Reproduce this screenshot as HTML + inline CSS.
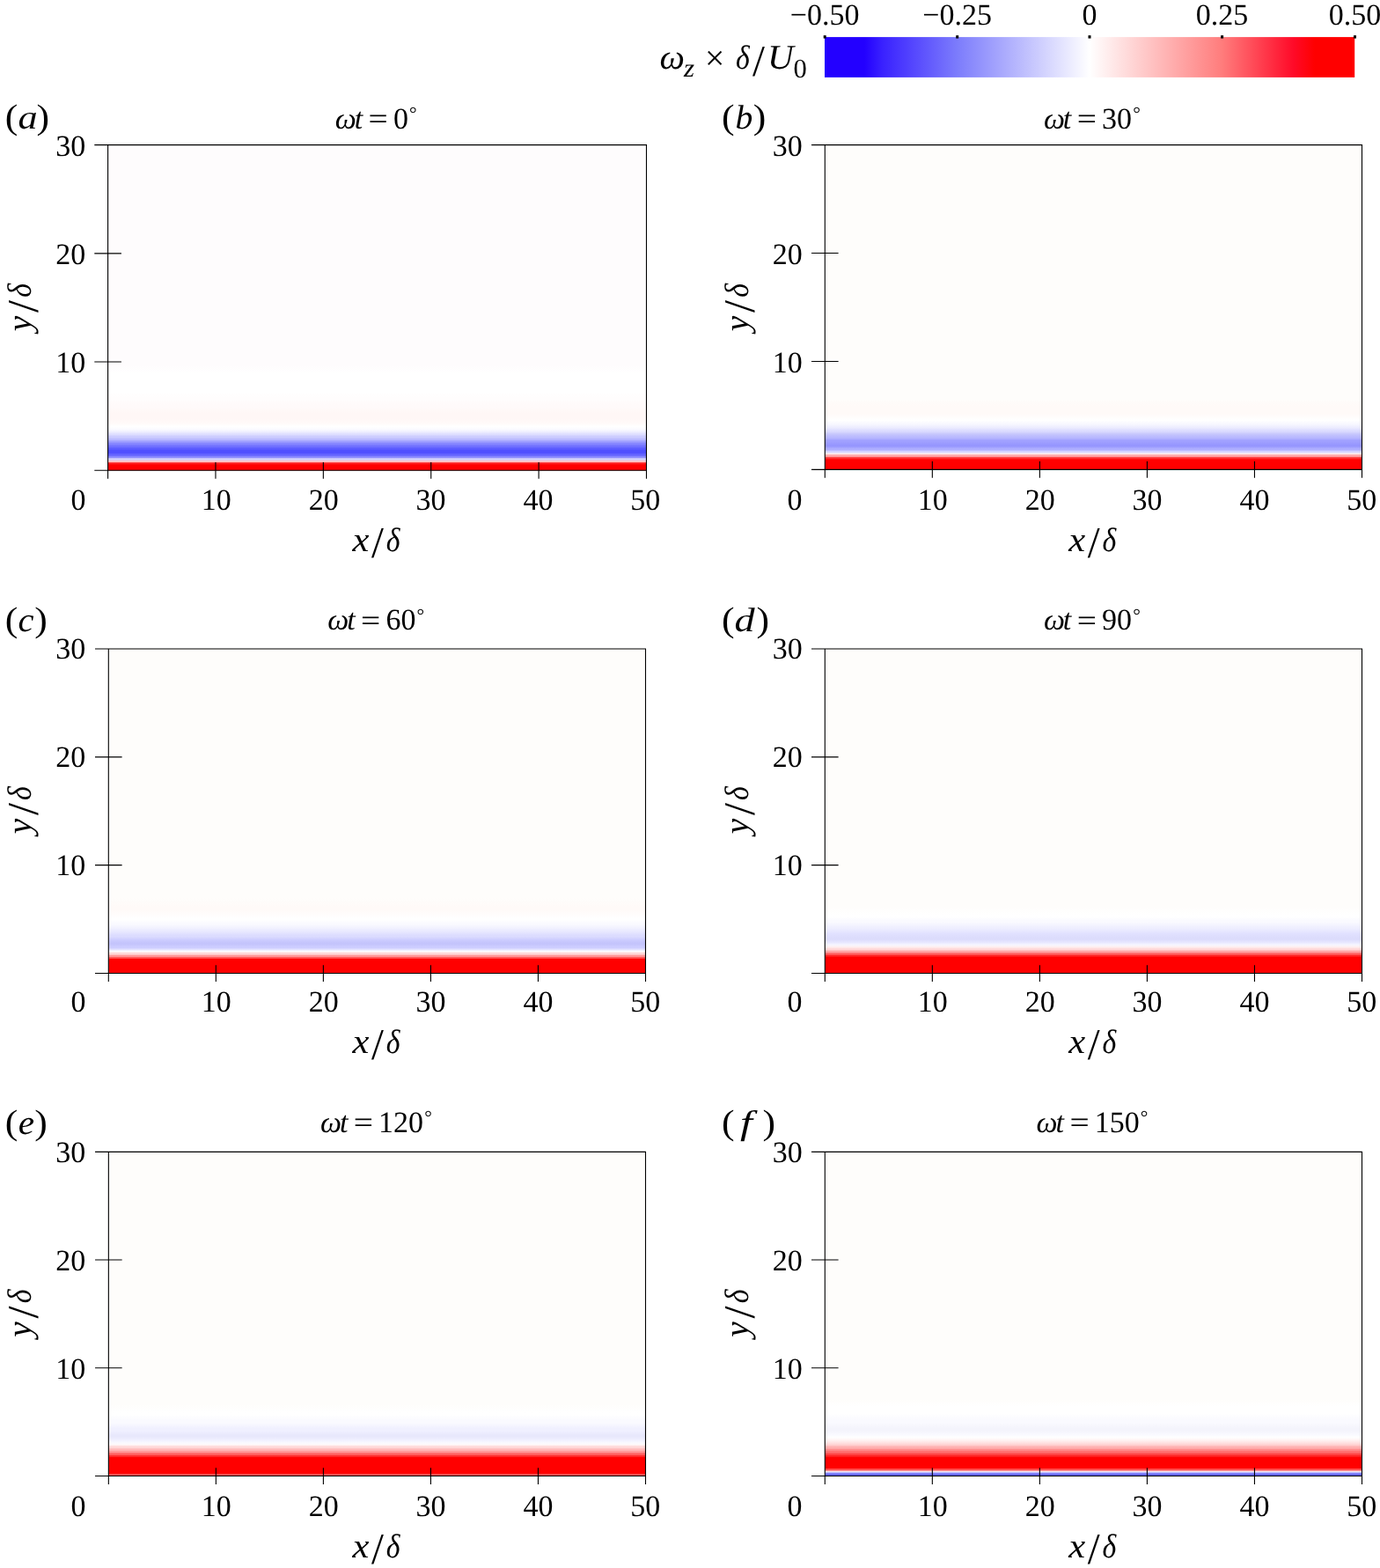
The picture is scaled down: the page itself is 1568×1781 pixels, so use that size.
<!DOCTYPE html>
<html lang="en"><head><meta charset="utf-8"><title>Vorticity contours at six phases</title>
<style>
html,body{margin:0;padding:0;background:#fff;}
body{width:1568px;height:1781px;overflow:hidden;}
svg{display:block;}
text{font-family:"Liberation Serif", "DejaVu Serif", serif;fill:#000;text-rendering:geometricPrecision;}
.tk{font-size:34px;}
.lb{font-size:39.5px;}
.i{font-style:italic;}
.ax{stroke:#000;stroke-width:1.1;fill:none;}
</style></head><body>
<svg width="1568" height="1781" viewBox="0 0 1568 1781" role="img" aria-label="Vorticity contours">
<defs>
<linearGradient id="cb" x1="0" y1="0" x2="1" y2="0"><stop offset="0" stop-color="#2300ff"/><stop offset="0.075" stop-color="#2300ff"/><stop offset="0.11" stop-color="#3a22ff"/><stop offset="0.25" stop-color="#7c7cfc"/><stop offset="0.5" stop-color="#ffffff"/><stop offset="0.75" stop-color="#ff7c7c"/><stop offset="0.885" stop-color="#ff0a28"/><stop offset="0.925" stop-color="#ff0000"/><stop offset="1" stop-color="#ff0000"/></linearGradient>
<linearGradient id="ga" gradientUnits="userSpaceOnUse" x1="0" y1="536.3" x2="0" y2="164.6"><stop offset="0.0055" stop-color="#ff0000"/><stop offset="0.0225" stop-color="#ff0000"/><stop offset="0.0252" stop-color="#ff1e1e"/><stop offset="0.0281" stop-color="#ff1e1e"/><stop offset="0.0317" stop-color="#ffc3c3"/><stop offset="0.0340" stop-color="#ffc3c3"/><stop offset="0.0376" stop-color="#d4d2fa"/><stop offset="0.0413" stop-color="#d4d2fa"/><stop offset="0.0451" stop-color="#8a8aff"/><stop offset="0.0475" stop-color="#8a8aff"/><stop offset="0.0513" stop-color="#6464ff"/><stop offset="0.0550" stop-color="#6464ff"/><stop offset="0.0588" stop-color="#5050ff"/><stop offset="0.0666" stop-color="#5050ff"/><stop offset="0.0704" stop-color="#5c5cff"/><stop offset="0.0736" stop-color="#5c5cff"/><stop offset="0.0774" stop-color="#7070ff"/><stop offset="0.0803" stop-color="#7070ff"/><stop offset="0.0841" stop-color="#8484ff"/><stop offset="0.0873" stop-color="#8484ff"/><stop offset="0.0928" stop-color="#a0a0ff"/><stop offset="0.0945" stop-color="#a0a0ff"/><stop offset="0.0999" stop-color="#bebeff"/><stop offset="0.1024" stop-color="#bebeff"/><stop offset="0.1062" stop-color="#cdcdff"/><stop offset="0.1105" stop-color="#cdcdff"/><stop offset="0.1140" stop-color="#dedeff"/><stop offset="0.1163" stop-color="#dedeff"/><stop offset="0.1228" stop-color="#eeeeff"/><stop offset="0.1304" stop-color="#fafaff"/><stop offset="0.1393" stop-color="#ffffff"/><stop offset="0.1496" stop-color="#fffaf9"/><stop offset="0.1645" stop-color="#fff7f6"/><stop offset="0.1796" stop-color="#fff7f6"/><stop offset="0.1986" stop-color="#fffafa"/><stop offset="0.2050" stop-color="#fffafa"/><stop offset="0.2215" stop-color="#fffdfd"/><stop offset="0.2279" stop-color="#fffdfd"/><stop offset="0.2469" stop-color="#ffffff"/><stop offset="0.3020" stop-color="#ffffff"/><stop offset="0.3262" stop-color="#fefcfd"/><stop offset="0.9892" stop-color="#fefcfd"/><stop offset="1.0000" stop-color="#fefcfd"/></linearGradient>
<linearGradient id="gb" gradientUnits="userSpaceOnUse" x1="0" y1="535.4" x2="0" y2="164.6"><stop offset="0.0064" stop-color="#ff0000"/><stop offset="0.0361" stop-color="#ff0000"/><stop offset="0.0388" stop-color="#ff2d2d"/><stop offset="0.0419" stop-color="#ff2d2d"/><stop offset="0.0457" stop-color="#ffa5a5"/><stop offset="0.0495" stop-color="#ffa5a5"/><stop offset="0.0544" stop-color="#fff5f5"/><stop offset="0.0592" stop-color="#d4d4ff"/><stop offset="0.0616" stop-color="#d4d4ff"/><stop offset="0.0653" stop-color="#afafff"/><stop offset="0.0691" stop-color="#afafff"/><stop offset="0.0771" stop-color="#9696fe"/><stop offset="0.0801" stop-color="#9696fe"/><stop offset="0.0916" stop-color="#a0a0ff"/><stop offset="0.0943" stop-color="#a0a0ff"/><stop offset="0.1034" stop-color="#b9b9ff"/><stop offset="0.1053" stop-color="#b9b9ff"/><stop offset="0.1149" stop-color="#c8c8fc"/><stop offset="0.1228" stop-color="#dcdcff"/><stop offset="0.1252" stop-color="#dcdcff"/><stop offset="0.1331" stop-color="#ebebff"/><stop offset="0.1452" stop-color="#f8f8ff"/><stop offset="0.1566" stop-color="#ffffff"/><stop offset="0.1772" stop-color="#fffaf8"/><stop offset="0.2011" stop-color="#fffaf8"/><stop offset="0.2226" stop-color="#fefdfb"/><stop offset="0.2465" stop-color="#fefdfb"/><stop offset="0.4083" stop-color="#fefdfb"/><stop offset="1.0000" stop-color="#fefdfb"/></linearGradient>
<linearGradient id="gc" gradientUnits="userSpaceOnUse" x1="0" y1="1107.5" x2="0" y2="737"><stop offset="0.0066" stop-color="#ff0000"/><stop offset="0.0487" stop-color="#ff0000"/><stop offset="0.0511" stop-color="#ff4646"/><stop offset="0.0532" stop-color="#ff4646"/><stop offset="0.0567" stop-color="#ff9696"/><stop offset="0.0597" stop-color="#ff9696"/><stop offset="0.0635" stop-color="#ffd7d7"/><stop offset="0.0673" stop-color="#ffd7d7"/><stop offset="0.0722" stop-color="#ffffff"/><stop offset="0.0786" stop-color="#e1e1ff"/><stop offset="0.0839" stop-color="#cdcdff"/><stop offset="0.0870" stop-color="#cdcdff"/><stop offset="0.0949" stop-color="#c4c4fc"/><stop offset="0.0980" stop-color="#c4c4fc"/><stop offset="0.1086" stop-color="#cdcdff"/><stop offset="0.1180" stop-color="#dcdcff"/><stop offset="0.1219" stop-color="#dcdcff"/><stop offset="0.1328" stop-color="#e8e8ff"/><stop offset="0.1450" stop-color="#f2f2ff"/><stop offset="0.1559" stop-color="#fafaff"/><stop offset="0.1597" stop-color="#fafaff"/><stop offset="0.1696" stop-color="#ffffff"/><stop offset="0.1734" stop-color="#ffffff"/><stop offset="0.2002" stop-color="#fffaf8"/><stop offset="0.2079" stop-color="#fffaf8"/><stop offset="0.2361" stop-color="#fefdfb"/><stop offset="0.2524" stop-color="#fefdfb"/><stop offset="0.4143" stop-color="#fefdfb"/><stop offset="1.0000" stop-color="#fefdfb"/></linearGradient>
<linearGradient id="gd" gradientUnits="userSpaceOnUse" x1="0" y1="1107.5" x2="0" y2="737"><stop offset="0.0066" stop-color="#ff0000"/><stop offset="0.0547" stop-color="#ff0000"/><stop offset="0.0574" stop-color="#ff2323"/><stop offset="0.0598" stop-color="#ff2323"/><stop offset="0.0635" stop-color="#ff6464"/><stop offset="0.0665" stop-color="#ff6464"/><stop offset="0.0703" stop-color="#ffa5a5"/><stop offset="0.0734" stop-color="#ffa5a5"/><stop offset="0.0771" stop-color="#ffd7d7"/><stop offset="0.0802" stop-color="#ffd7d7"/><stop offset="0.0855" stop-color="#ffeeee"/><stop offset="0.0927" stop-color="#f6f6ff"/><stop offset="0.0995" stop-color="#e8e8ff"/><stop offset="0.1091" stop-color="#dcdcfc"/><stop offset="0.1142" stop-color="#dcdcfc"/><stop offset="0.1268" stop-color="#e1e1ff"/><stop offset="0.1389" stop-color="#ebebff"/><stop offset="0.1510" stop-color="#f2f2ff"/><stop offset="0.1625" stop-color="#fafaff"/><stop offset="0.1668" stop-color="#fafaff"/><stop offset="0.1788" stop-color="#ffffff"/><stop offset="0.1839" stop-color="#ffffff"/><stop offset="0.2088" stop-color="#fefdfb"/><stop offset="0.2524" stop-color="#fefdfb"/><stop offset="0.4143" stop-color="#fefdfb"/><stop offset="1.0000" stop-color="#fefdfb"/></linearGradient>
<linearGradient id="ge" gradientUnits="userSpaceOnUse" x1="0" y1="1678.5" x2="0" y2="1308.35"><stop offset="0.0071" stop-color="#ff5050"/><stop offset="0.0109" stop-color="#ff5050"/><stop offset="0.0136" stop-color="#ff0000"/><stop offset="0.0620" stop-color="#ff0000"/><stop offset="0.0647" stop-color="#ff2828"/><stop offset="0.0671" stop-color="#ff2828"/><stop offset="0.0708" stop-color="#ff6464"/><stop offset="0.0746" stop-color="#ff6464"/><stop offset="0.0783" stop-color="#ff9696"/><stop offset="0.0807" stop-color="#ff9696"/><stop offset="0.0845" stop-color="#ffb9b9"/><stop offset="0.0883" stop-color="#ffb9b9"/><stop offset="0.0920" stop-color="#ffd7d7"/><stop offset="0.0958" stop-color="#ffd7d7"/><stop offset="0.1015" stop-color="#fffafa"/><stop offset="0.1084" stop-color="#f8f8ff"/><stop offset="0.1159" stop-color="#f0f0ff"/><stop offset="0.1259" stop-color="#e8e8fc"/><stop offset="0.1302" stop-color="#e8e8fc"/><stop offset="0.1444" stop-color="#f0f0ff"/><stop offset="0.1512" stop-color="#f0f0ff"/><stop offset="0.1687" stop-color="#fafaff"/><stop offset="0.1755" stop-color="#fafaff"/><stop offset="0.1929" stop-color="#ffffff"/><stop offset="0.1997" stop-color="#ffffff"/><stop offset="0.2269" stop-color="#fefdfb"/><stop offset="0.2553" stop-color="#fefdfb"/><stop offset="0.4174" stop-color="#fefdfb"/><stop offset="1.0000" stop-color="#fefdfb"/></linearGradient>
<linearGradient id="gf" gradientUnits="userSpaceOnUse" x1="0" y1="1678.5" x2="0" y2="1308.35"><stop offset="0.0074" stop-color="#6969ff"/><stop offset="0.0124" stop-color="#6969ff"/><stop offset="0.0152" stop-color="#bebeff"/><stop offset="0.0164" stop-color="#bebeff"/><stop offset="0.0196" stop-color="#ffebeb"/><stop offset="0.0238" stop-color="#ff5050"/><stop offset="0.0268" stop-color="#ff5050"/><stop offset="0.0295" stop-color="#ff0000"/><stop offset="0.0620" stop-color="#ff0000"/><stop offset="0.0647" stop-color="#ff1e1e"/><stop offset="0.0671" stop-color="#ff1e1e"/><stop offset="0.0707" stop-color="#ff4646"/><stop offset="0.0732" stop-color="#ff4646"/><stop offset="0.0769" stop-color="#ff6e6e"/><stop offset="0.0807" stop-color="#ff6e6e"/><stop offset="0.0844" stop-color="#ff8c8c"/><stop offset="0.0868" stop-color="#ff8c8c"/><stop offset="0.0905" stop-color="#ffafaf"/><stop offset="0.0943" stop-color="#ffafaf"/><stop offset="0.1008" stop-color="#ffd2d2"/><stop offset="0.1091" stop-color="#ffe6e6"/><stop offset="0.1167" stop-color="#fff5f5"/><stop offset="0.1235" stop-color="#ffffff"/><stop offset="0.1311" stop-color="#fafaff"/><stop offset="0.1444" stop-color="#f4f4fc"/><stop offset="0.1512" stop-color="#f4f4fc"/><stop offset="0.1698" stop-color="#fafaff"/><stop offset="0.1774" stop-color="#fafaff"/><stop offset="0.1980" stop-color="#ffffff"/><stop offset="0.2174" stop-color="#ffffff"/><stop offset="0.2420" stop-color="#fefdfb"/><stop offset="0.2553" stop-color="#fefdfb"/><stop offset="0.4174" stop-color="#fefdfb"/><stop offset="1.0000" stop-color="#fefdfb"/></linearGradient>
</defs>
<rect x="0" y="0" width="1568" height="1781" fill="#fff"/>
<g id="colorbar">
<rect x="937" y="42.1" width="602.2" height="45.8" fill="url(#cb)"/>
<rect x="935.7" y="40.2" width="3" height="3.4" fill="#000"/>
<rect x="1086.2" y="40.2" width="3" height="3.4" fill="#000"/>
<rect x="1236.5" y="40.2" width="3" height="3.4" fill="#000"/>
<rect x="1387.1" y="40.2" width="3" height="3.4" fill="#000"/>
<rect x="1538" y="40.2" width="3" height="3.4" fill="#000"/>
<text class="tk" x="937.2" y="27.7" text-anchor="middle">−0.50</text>
<text class="tk" x="1087.7" y="27.7" text-anchor="middle">−0.25</text>
<text class="tk" x="1238" y="27.7" text-anchor="middle">0</text>
<text class="tk" x="1388.6" y="27.7" text-anchor="middle">0.25</text>
<text class="tk" x="1539.5" y="27.7" text-anchor="middle">0.50</text>
<text class="lb" y="78.4"><tspan x="749.47" class="i" textLength="28.44" lengthAdjust="spacingAndGlyphs">ω</tspan><tspan x="777.14" y="86.8" class="i" font-size="29.5" textLength="12.05" lengthAdjust="spacingAndGlyphs">z</tspan> <tspan x="800.88" y="78.7">×</tspan> <tspan x="836.12" y="78.4" class="i" font-size="38.4" textLength="15.71" lengthAdjust="spacingAndGlyphs">δ</tspan><tspan x="855" y="86.4" font-size="50">/</tspan><tspan x="871.92" y="78.4" class="i" textLength="29.66" lengthAdjust="spacingAndGlyphs">U</tspan><tspan x="901.44" y="88.2" font-size="30.6">0</tspan></text>
</g>
<g id="panel-a">
<rect x="122.6" y="164.6" width="611.9" height="369.7" fill="url(#ga)"/>
<path class="ax" d="M107.3 164.6H734.5V543.7H734.5V534.3M734.5 534.3H107.3V534.3V534.3M122.6 164.6V543.7M107.3 411.07H137.9M107.3 287.83H137.9M244.98 525V543.7M367.36 525V543.7M489.74 525V543.7M612.12 525V543.7"/>
<text class="tk" x="97.2" y="177" text-anchor="end">30</text>
<text class="tk" x="97.2" y="300" text-anchor="end">20</text>
<text class="tk" x="97.2" y="423" text-anchor="end">10</text>
<text class="tk" x="97.5" y="578.8" text-anchor="end">0</text>
<text class="tk" x="245.82" y="578.8" text-anchor="middle">10</text>
<text class="tk" x="367.69" y="578.8" text-anchor="middle">20</text>
<text class="tk" x="489.56" y="578.8" text-anchor="middle">30</text>
<text class="tk" x="611.43" y="578.8" text-anchor="middle">40</text>
<text class="tk" x="733.3" y="578.8" text-anchor="middle">50</text>
<text class="lb" y="626.2"><tspan x="400.41" class="i" textLength="18.94" lengthAdjust="spacingAndGlyphs">x</tspan><tspan x="422" y="633.4" font-size="50">/</tspan><tspan x="438.82" y="626.2" class="i" font-size="38.4" textLength="15.71" lengthAdjust="spacingAndGlyphs">δ</tspan></text>
<g transform="translate(35.2 379.4) rotate(-90)"><text class="lb" y="0"><tspan x="3.28" class="i">y</tspan><tspan x="24.5" y="7.3" font-size="50">/</tspan><tspan x="41.62" y="0" class="i" font-size="38.4" textLength="15.71" lengthAdjust="spacingAndGlyphs">δ</tspan></text></g>
<text class="tk" y="145.5"><tspan x="380.78" class="i">ω</tspan><tspan x="402.7" class="i">t</tspan> <tspan x="418.63" y="146.1" textLength="22.24" lengthAdjust="spacingAndGlyphs">=</tspan> <tspan x="446.9" y="145.5">0</tspan><tspan x="465.07" y="136.2" font-size="21.5">°</tspan></text>
<text class="lb" y="145.7"><tspan x="5.77" font-size="39.8" textLength="14.58" lengthAdjust="spacingAndGlyphs">(</tspan><tspan x="20.47" class="i" font-size="38.5" textLength="22.11" lengthAdjust="spacingAndGlyphs">a</tspan><tspan x="41.5" font-size="39.8" textLength="14.58" lengthAdjust="spacingAndGlyphs">)</tspan></text>
</g>
<g id="panel-b">
<rect x="937.3" y="164.6" width="610.2" height="368.8" fill="url(#gb)"/>
<path class="ax" d="M922 164.6H1547.5V542.8H1547.5V533.4M1547.5 533.4H922V533.4V533.4M937.3 164.6V542.8M922 410.47H952.6M922 287.53H952.6M1059.34 524.1V542.8M1181.38 524.1V542.8M1303.42 524.1V542.8M1425.46 524.1V542.8"/>
<text class="tk" x="911.7" y="177" text-anchor="end">30</text>
<text class="tk" x="911.7" y="300" text-anchor="end">20</text>
<text class="tk" x="911.7" y="423" text-anchor="end">10</text>
<text class="tk" x="911.5" y="578.8" text-anchor="end">0</text>
<text class="tk" x="1059.82" y="578.8" text-anchor="middle">10</text>
<text class="tk" x="1181.69" y="578.8" text-anchor="middle">20</text>
<text class="tk" x="1303.56" y="578.8" text-anchor="middle">30</text>
<text class="tk" x="1425.43" y="578.8" text-anchor="middle">40</text>
<text class="tk" x="1547.3" y="578.8" text-anchor="middle">50</text>
<text class="lb" y="626.2"><tspan x="1214.21" class="i" textLength="18.94" lengthAdjust="spacingAndGlyphs">x</tspan><tspan x="1235.8" y="633.4" font-size="50">/</tspan><tspan x="1252.62" y="626.2" class="i" font-size="38.4" textLength="15.71" lengthAdjust="spacingAndGlyphs">δ</tspan></text>
<g transform="translate(849.6 379.4) rotate(-90)"><text class="lb" y="0"><tspan x="3.28" class="i">y</tspan><tspan x="24.5" y="7.3" font-size="50">/</tspan><tspan x="41.62" y="0" class="i" font-size="38.4" textLength="15.71" lengthAdjust="spacingAndGlyphs">δ</tspan></text></g>
<text class="tk" y="145.5"><tspan x="1185.88" class="i">ω</tspan><tspan x="1207.8" class="i">t</tspan> <tspan x="1223.73" y="146.1" textLength="22.24" lengthAdjust="spacingAndGlyphs">=</tspan> <tspan x="1252" y="145.5">30</tspan><tspan x="1287.17" y="136.2" font-size="21.5">°</tspan></text>
<text class="lb" y="145.7"><tspan x="819.97" font-size="39.8" textLength="14.58" lengthAdjust="spacingAndGlyphs">(</tspan><tspan x="835.53" class="i" font-size="38.5" textLength="19.86" lengthAdjust="spacingAndGlyphs">b</tspan><tspan x="855.7" font-size="39.8" textLength="14.58" lengthAdjust="spacingAndGlyphs">)</tspan></text>
</g>
<g id="panel-c">
<rect x="123.3" y="737" width="610.2" height="368.5" fill="url(#gc)"/>
<path class="ax" d="M108 737H733.5V1114.9H733.5V1105.5M733.5 1105.5H108V1105.5V1105.5M123.3 737V1114.9M108 982.67H138.6M108 859.83H138.6M245.34 1096.2V1114.9M367.38 1096.2V1114.9M489.42 1096.2V1114.9M611.46 1096.2V1114.9"/>
<text class="tk" x="97.2" y="748.2" text-anchor="end">30</text>
<text class="tk" x="97.2" y="871.2" text-anchor="end">20</text>
<text class="tk" x="97.2" y="994.2" text-anchor="end">10</text>
<text class="tk" x="97.5" y="1148.8" text-anchor="end">0</text>
<text class="tk" x="245.82" y="1148.8" text-anchor="middle">10</text>
<text class="tk" x="367.69" y="1148.8" text-anchor="middle">20</text>
<text class="tk" x="489.56" y="1148.8" text-anchor="middle">30</text>
<text class="tk" x="611.43" y="1148.8" text-anchor="middle">40</text>
<text class="tk" x="733.3" y="1148.8" text-anchor="middle">50</text>
<text class="lb" y="1196.2"><tspan x="400.41" class="i" textLength="18.94" lengthAdjust="spacingAndGlyphs">x</tspan><tspan x="422" y="1203.4" font-size="50">/</tspan><tspan x="438.82" y="1196.2" class="i" font-size="38.4" textLength="15.71" lengthAdjust="spacingAndGlyphs">δ</tspan></text>
<g transform="translate(35.2 950.6) rotate(-90)"><text class="lb" y="0"><tspan x="3.28" class="i">y</tspan><tspan x="24.5" y="7.3" font-size="50">/</tspan><tspan x="41.62" y="0" class="i" font-size="38.4" textLength="15.71" lengthAdjust="spacingAndGlyphs">δ</tspan></text></g>
<text class="tk" y="715"><tspan x="372.28" class="i">ω</tspan><tspan x="394.2" class="i">t</tspan> <tspan x="410.13" y="715.6" textLength="22.24" lengthAdjust="spacingAndGlyphs">=</tspan> <tspan x="438.4" y="715">60</tspan><tspan x="473.57" y="705.7" font-size="21.5">°</tspan></text>
<text class="lb" y="716.7"><tspan x="5.77" font-size="39.8" textLength="14.58" lengthAdjust="spacingAndGlyphs">(</tspan><tspan x="20.54" class="i" font-size="38.5" textLength="18" lengthAdjust="spacingAndGlyphs">c</tspan><tspan x="39.2" font-size="39.8" textLength="14.58" lengthAdjust="spacingAndGlyphs">)</tspan></text>
</g>
<g id="panel-d">
<rect x="937.3" y="737" width="610.2" height="368.5" fill="url(#gd)"/>
<path class="ax" d="M922 737H1547.5V1114.9H1547.5V1105.5M1547.5 1105.5H922V1105.5V1105.5M937.3 737V1114.9M922 982.67H952.6M922 859.83H952.6M1059.34 1096.2V1114.9M1181.38 1096.2V1114.9M1303.42 1096.2V1114.9M1425.46 1096.2V1114.9"/>
<text class="tk" x="911.7" y="748.2" text-anchor="end">30</text>
<text class="tk" x="911.7" y="871.2" text-anchor="end">20</text>
<text class="tk" x="911.7" y="994.2" text-anchor="end">10</text>
<text class="tk" x="911.5" y="1148.8" text-anchor="end">0</text>
<text class="tk" x="1059.82" y="1148.8" text-anchor="middle">10</text>
<text class="tk" x="1181.69" y="1148.8" text-anchor="middle">20</text>
<text class="tk" x="1303.56" y="1148.8" text-anchor="middle">30</text>
<text class="tk" x="1425.43" y="1148.8" text-anchor="middle">40</text>
<text class="tk" x="1547.3" y="1148.8" text-anchor="middle">50</text>
<text class="lb" y="1196.2"><tspan x="1214.21" class="i" textLength="18.94" lengthAdjust="spacingAndGlyphs">x</tspan><tspan x="1235.8" y="1203.4" font-size="50">/</tspan><tspan x="1252.62" y="1196.2" class="i" font-size="38.4" textLength="15.71" lengthAdjust="spacingAndGlyphs">δ</tspan></text>
<g transform="translate(849.6 950.6) rotate(-90)"><text class="lb" y="0"><tspan x="3.28" class="i">y</tspan><tspan x="24.5" y="7.3" font-size="50">/</tspan><tspan x="41.62" y="0" class="i" font-size="38.4" textLength="15.71" lengthAdjust="spacingAndGlyphs">δ</tspan></text></g>
<text class="tk" y="715"><tspan x="1185.88" class="i">ω</tspan><tspan x="1207.8" class="i">t</tspan> <tspan x="1223.73" y="715.6" textLength="22.24" lengthAdjust="spacingAndGlyphs">=</tspan> <tspan x="1252" y="715">90</tspan><tspan x="1287.17" y="705.7" font-size="21.5">°</tspan></text>
<text class="lb" y="716.7"><tspan x="819.97" font-size="39.8" textLength="14.58" lengthAdjust="spacingAndGlyphs">(</tspan><tspan x="834.46" class="i" font-size="38.5" textLength="23.1" lengthAdjust="spacingAndGlyphs">d</tspan><tspan x="859.6" font-size="39.8" textLength="14.58" lengthAdjust="spacingAndGlyphs">)</tspan></text>
</g>
<g id="panel-e">
<rect x="123.35" y="1308.35" width="610.15" height="368.15" fill="url(#ge)"/>
<path class="ax" d="M108.05 1308.35H733.5V1685.9H733.5V1676.5M733.5 1676.5H108.05V1676.5V1676.5M123.35 1308.35V1685.9M108.05 1553.78H138.65M108.05 1431.07H138.65M245.38 1667.2V1685.9M367.41 1667.2V1685.9M489.44 1667.2V1685.9M611.47 1667.2V1685.9"/>
<text class="tk" x="97.2" y="1319.5" text-anchor="end">30</text>
<text class="tk" x="97.2" y="1442.5" text-anchor="end">20</text>
<text class="tk" x="97.2" y="1565.5" text-anchor="end">10</text>
<text class="tk" x="97.5" y="1721.8" text-anchor="end">0</text>
<text class="tk" x="245.82" y="1721.8" text-anchor="middle">10</text>
<text class="tk" x="367.69" y="1721.8" text-anchor="middle">20</text>
<text class="tk" x="489.56" y="1721.8" text-anchor="middle">30</text>
<text class="tk" x="611.43" y="1721.8" text-anchor="middle">40</text>
<text class="tk" x="733.3" y="1721.8" text-anchor="middle">50</text>
<text class="lb" y="1768.7"><tspan x="400.41" class="i" textLength="18.94" lengthAdjust="spacingAndGlyphs">x</tspan><tspan x="422" y="1775.9" font-size="50">/</tspan><tspan x="438.82" y="1768.7" class="i" font-size="38.4" textLength="15.71" lengthAdjust="spacingAndGlyphs">δ</tspan></text>
<g transform="translate(35.2 1521.9) rotate(-90)"><text class="lb" y="0"><tspan x="3.28" class="i">y</tspan><tspan x="24.5" y="7.3" font-size="50">/</tspan><tspan x="41.62" y="0" class="i" font-size="38.4" textLength="15.71" lengthAdjust="spacingAndGlyphs">δ</tspan></text></g>
<text class="tk" y="1285.6"><tspan x="363.98" class="i">ω</tspan><tspan x="385.9" class="i">t</tspan> <tspan x="401.83" y="1286.2" textLength="22.24" lengthAdjust="spacingAndGlyphs">=</tspan> <tspan x="430.1" y="1285.6">120</tspan><tspan x="482.27" y="1276.3" font-size="21.5">°</tspan></text>
<text class="lb" y="1287.7"><tspan x="5.77" font-size="39.8" textLength="14.58" lengthAdjust="spacingAndGlyphs">(</tspan><tspan x="20.72" class="i" font-size="38.5" textLength="18.33" lengthAdjust="spacingAndGlyphs">e</tspan><tspan x="39.2" font-size="39.8" textLength="14.58" lengthAdjust="spacingAndGlyphs">)</tspan></text>
</g>
<g id="panel-f">
<rect x="937.3" y="1308.35" width="610.2" height="368.15" fill="url(#gf)"/>
<path class="ax" d="M922 1308.35H1547.5V1685.9H1547.5V1676.5M1547.5 1676.5H922V1676.5V1676.5M937.3 1308.35V1685.9M922 1553.78H952.6M922 1431.07H952.6M1059.34 1667.2V1685.9M1181.38 1667.2V1685.9M1303.42 1667.2V1685.9M1425.46 1667.2V1685.9"/>
<text class="tk" x="911.7" y="1319.5" text-anchor="end">30</text>
<text class="tk" x="911.7" y="1442.5" text-anchor="end">20</text>
<text class="tk" x="911.7" y="1565.5" text-anchor="end">10</text>
<text class="tk" x="911.5" y="1721.8" text-anchor="end">0</text>
<text class="tk" x="1059.82" y="1721.8" text-anchor="middle">10</text>
<text class="tk" x="1181.69" y="1721.8" text-anchor="middle">20</text>
<text class="tk" x="1303.56" y="1721.8" text-anchor="middle">30</text>
<text class="tk" x="1425.43" y="1721.8" text-anchor="middle">40</text>
<text class="tk" x="1547.3" y="1721.8" text-anchor="middle">50</text>
<text class="lb" y="1768.7"><tspan x="1214.21" class="i" textLength="18.94" lengthAdjust="spacingAndGlyphs">x</tspan><tspan x="1235.8" y="1775.9" font-size="50">/</tspan><tspan x="1252.62" y="1768.7" class="i" font-size="38.4" textLength="15.71" lengthAdjust="spacingAndGlyphs">δ</tspan></text>
<g transform="translate(849.6 1521.9) rotate(-90)"><text class="lb" y="0"><tspan x="3.28" class="i">y</tspan><tspan x="24.5" y="7.3" font-size="50">/</tspan><tspan x="41.62" y="0" class="i" font-size="38.4" textLength="15.71" lengthAdjust="spacingAndGlyphs">δ</tspan></text></g>
<text class="tk" y="1285.6"><tspan x="1177.58" class="i">ω</tspan><tspan x="1199.5" class="i">t</tspan> <tspan x="1215.43" y="1286.2" textLength="22.24" lengthAdjust="spacingAndGlyphs">=</tspan> <tspan x="1243.7" y="1285.6">150</tspan><tspan x="1295.87" y="1276.3" font-size="21.5">°</tspan></text>
<text class="lb" y="1287.7"><tspan x="819.97" font-size="39.8" textLength="14.58" lengthAdjust="spacingAndGlyphs">(</tspan><tspan x="840.99" class="i" font-size="38.5" textLength="13.91" lengthAdjust="spacingAndGlyphs">f</tspan><tspan x="866.6" font-size="39.8" textLength="14.58" lengthAdjust="spacingAndGlyphs">)</tspan></text>
</g>
</svg>
</body></html>
